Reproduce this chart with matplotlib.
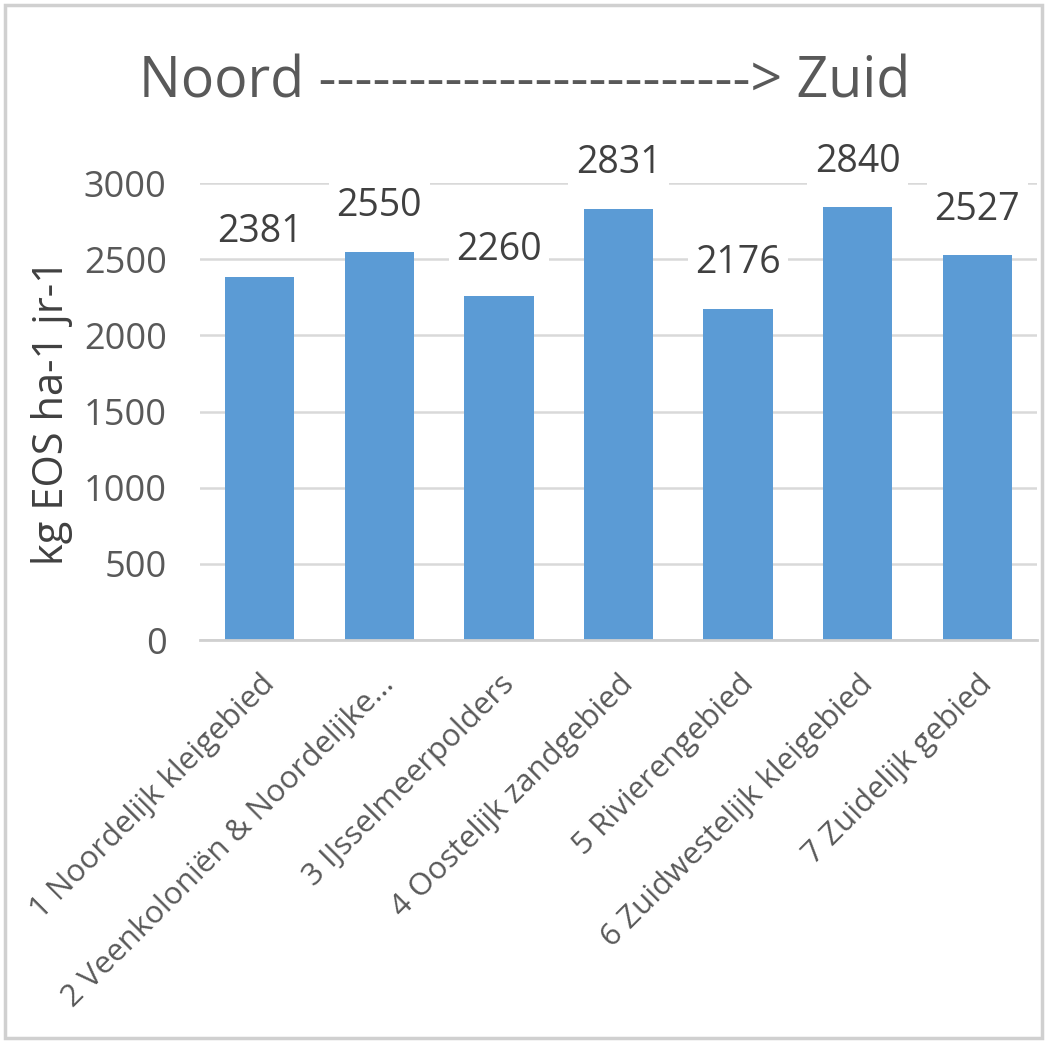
import matplotlib.pyplot as plt
from matplotlib.patches import Rectangle

categories = ["1 Noordelijk kleigebied", "2 Veenkoloniën & Noordelijke...", "3 IJsselmeerpolders",
              "4 Oostelijk zandgebied", "5 Rivierengebied", "6 Zuidwestelijk kleigebied",
              "7 Zuidelijk gebied"]
values = [2381, 2550, 2260, 2831, 2176, 2840, 2527]
yticks = [0, 500, 1000, 1500, 2000, 2500, 3000]

BAR_COLOR = "#5B9BD5"
TEXT_COLOR = "#595959"

plt.rcParams['font.family'] = ['Open Sans', 'DejaVu Sans']

fig = plt.figure(figsize=(10.49, 10.47), dpi=100)
ax = fig.add_axes([200 / 1049, 1 - 640 / 1047, 837 / 1049, 457 / 1047])

x = range(len(categories))
ax.bar(x, values, width=0.58, color=BAR_COLOR, zorder=2)
ax.set_xlim(-0.5, len(categories) - 0.5)
ax.set_ylim(0, 3000)
ax.set_yticks(yticks)
ax.yaxis.grid(True, color="#D9D9D9", linewidth=1.8, zorder=0)
ax.set_axisbelow(True)
for s in ["top", "right", "left"]:
    ax.spines[s].set_visible(False)
ax.spines["bottom"].set_color("#D0D0D0")
ax.spines["bottom"].set_linewidth(2)
ax.tick_params(axis="both", length=0, colors=TEXT_COLOR)
ax.tick_params(axis="y", pad=24, labelsize=26)
ax.set_xticks(list(x))
ax.set_xticklabels(categories, rotation=45, ha="right", va="top", rotation_mode="anchor",
                   fontsize=22.5, color=TEXT_COLOR)
ax.tick_params(axis="x", pad=21)

for i, v in enumerate(values):
    ax.annotate(str(v), (i, v), xytext=(0, 19), textcoords="offset points", ha="center",
                va="bottom", fontsize=27, color="#404040", zorder=3,
                bbox=dict(boxstyle="square,pad=0.2", fc="white", ec="none"))

ax.set_ylabel("kg EOS ha-1 jr-1", fontsize=30, color="#404040", labelpad=8)

fig.text(0.5, 0.921, "Noord " + "-" * 24 + "> Zuid", ha="center", va="center",
         fontsize=40, color=TEXT_COLOR)

fig.patches.append(Rectangle((5 / 1049, 9 / 1047), 1037 / 1049, 1033 / 1047, transform=fig.transFigure,
                             fill=False, ec="#D0D0D0", lw=2.5))

fig.savefig("out.png", dpi=100)
